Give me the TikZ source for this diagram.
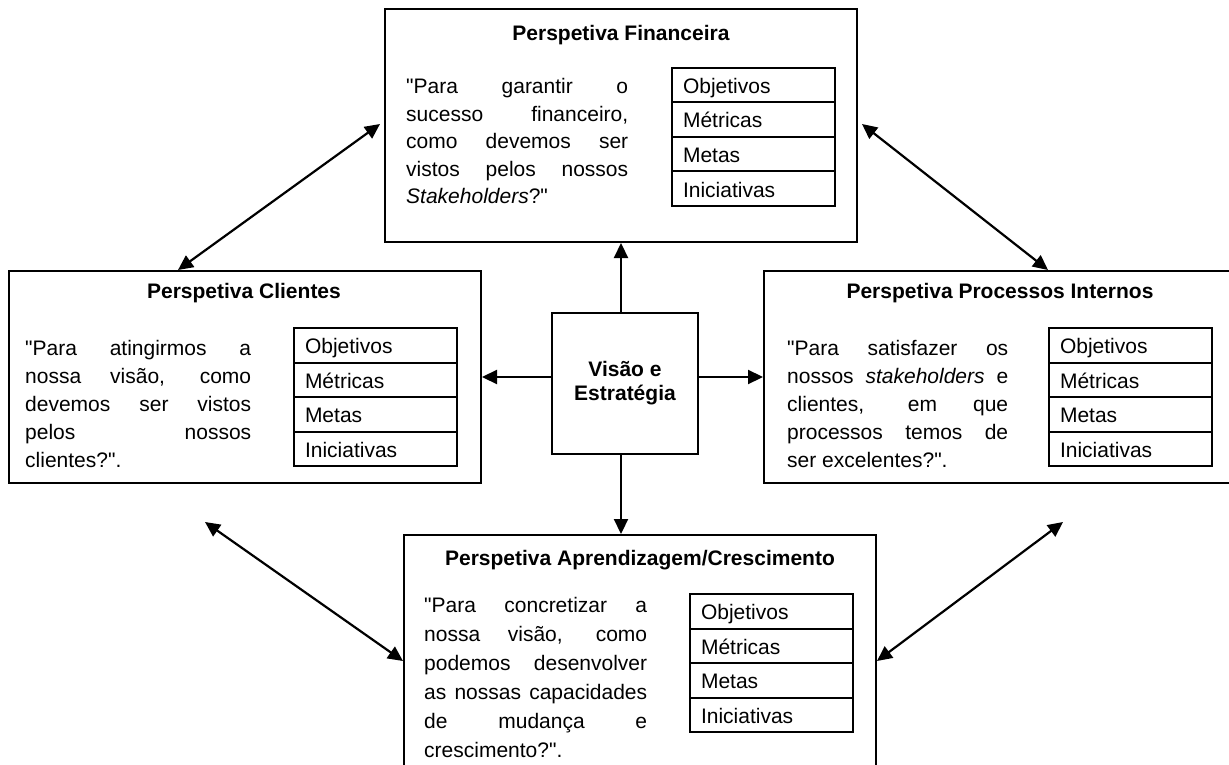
\documentclass[tikz,border=0pt]{standalone}
\usepackage{fontspec}
\setmainfont{Liberation Sans}[Ligatures=TeXOff]
\usetikzlibrary{arrows.meta}

% one justified line of a question paragraph
\newcommand\jl[1]{\makebox[\linewidth][s]{#1}\\}
% question paragraph: width, line spacing, lines
\newcommand\qpar[3]{\parbox[t]{#1}{\fontsize{21}{#2}\selectfont #3}}
% four-row table of a perspective: name prefix, x, y of top-left corner
\newcommand\mtable[3]{%
  \node[rowbox] (#1-1) at (#2,#3)        {Objetivos};
  \node[rowbox] (#1-2) at (#2,#3+34.5)   {Métricas};
  \node[rowbox] (#1-3) at (#2,#3+69)     {Metas};
  \node[rowbox] (#1-4) at (#2,#3+103.5)  {Iniciativas};
}

\begin{document}
\begin{tikzpicture}[x=1pt,y=-1pt,
  persp/.style={draw, line width=2pt, inner sep=0pt, anchor=north west, minimum width=472pt},
  rowbox/.style={draw, line width=2pt, anchor=north west, minimum width=163pt,
    minimum height=34.5pt, text width=141pt, align=left, inner xsep=11pt,
    inner ysep=7.5pt, text height=18pt, text depth=1.5pt,
    font=\fontsize{21}{25}\selectfont},
  ttl/.style={anchor=base, inner sep=0pt, font=\bfseries\fontsize{21}{25}\selectfont},
  para/.style={anchor=base west, inner sep=0pt},
  arr/.style={line width=2.2pt, -{Triangle[length=15pt,width=14pt]}},
  biarr/.style={line width=2.2pt, {Triangle[length=15pt,width=14pt]}-{Triangle[length=15pt,width=14pt]}}
]
\useasboundingbox (0,0) rectangle (1229,765);
\clip (0,0) rectangle (1229,765);

% perspective frames
\node[persp, minimum height=233pt] (fin) at (384,8) {};
\node[persp, minimum height=212pt] (cli) at (8,270) {};
\node[persp, minimum height=212pt] (pro) at (763,270) {};
\node[persp, minimum height=233pt] (apr) at (403,534) {};

% vision and strategy
\node[draw, line width=1.8pt, minimum width=146pt, minimum height=141pt, inner sep=0pt,
  align=center, font=\bfseries\fontsize{21}{24}\selectfont] (ctr) at (625,383.5)
  {Visão e\\Estratégia};

% titles
\node[ttl] (fin-t) at (621,41)  {Perspetiva Financeira};
\node[ttl] (cli-t) at (244,298) {Perspetiva Clientes};
\node[ttl] (pro-t) at (1000,298) {Perspetiva Processos Internos};
\node[ttl] (apr-t) at (640,565) {Perspetiva Aprendizagem/Crescimento};

% questions
\node[para] (fin-q) at (406,94) {\qpar{222pt}{27.5}{%
  \jl{"Para garantir o}\jl{sucesso financeiro,}\jl{como devemos ser}%
  \jl{vistos pelos nossos}\textit{Stakeholders}?"}};
\node[para] (cli-q) at (25,355) {\qpar{226pt}{28}{%
  \jl{"Para atingirmos a}\jl{nossa visão, como}\jl{devemos ser vistos}%
  \jl{pelos nossos}clientes?".}};
\node[para] (pro-q) at (787,355) {\qpar{221pt}{28}{%
  \jl{"Para satisfazer os}\jl{nossos \textit{stakeholders} e}\jl{clientes, em que}%
  \jl{processos temos de}ser excelentes?".}};
\node[para] (apr-q) at (424,612) {\qpar{223pt}{29}{%
  \jl{"Para concretizar a}\jl{nossa visão, como}\jl{podemos desenvolver}%
  \jl{as nossas capacidades}\jl{de mudança e}crescimento?".}};

% tables
\mtable{fin-m}{671}{67}
\mtable{cli-m}{293}{327}
\mtable{pro-m}{1048}{327}
\mtable{apr-m}{689}{593}

% arrows from the centre
\draw[arr] (ctr.north -| fin.south) -- (fin.south);
\draw[arr] (ctr.south -| fin.south) -- (apr.north -| fin.south);
\draw[arr] (ctr.west |- cli.east) -- (cli.east);
\draw[arr] (ctr.east |- pro.west) -- (pro.west);

% links between neighbouring perspectives
\draw[biarr] ([xshift=-4pt,yshift=1.5pt]fin.west) -- ([xshift=170pt]cli.north west);
\draw[biarr] ([xshift=4pt,yshift=1.5pt]fin.east) -- ([xshift=285pt]pro.north west);
\draw[biarr] ([xshift=197pt,yshift=-38pt]cli.south west) -- ([yshift=-9.5pt]apr.west);
\draw[biarr] ([xshift=300pt,yshift=-38pt]pro.south west) -- ([yshift=-9.5pt]apr.east);
\end{tikzpicture}
\end{document}
